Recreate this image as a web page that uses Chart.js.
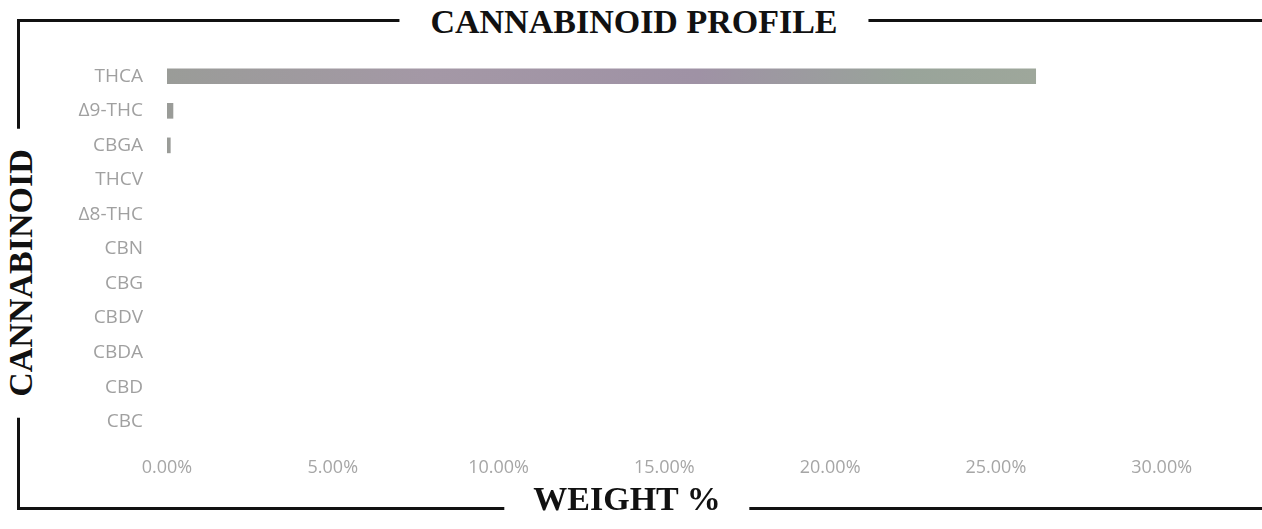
<!DOCTYPE html>
<html lang="en">
<head>
  <meta charset="UTF-8">
  <title>Cannabinoid Profile</title>
  <style>
    html, body {
      margin: 0;
      padding: 0;
      background: #fff;
    }
    .page {
      position: relative;
      width: 1262px;
      height: 529px;
      overflow: hidden;
    }
    .frame {
      position: absolute;
      left: 17px;
      top: 19px;
      width: 1260px;
      height: 485px;
      border: 3px solid #111;
      border-right: none;
    }
    .label {
      position: absolute;
      background: #fff;
      font-family: "Liberation Serif", "DejaVu Serif", serif;
      font-weight: bold;
      font-size: 34px;
      line-height: 1;
      color: #111;
      white-space: nowrap;
      padding: 0 31px;
      transform: translate(-50%, -50%);
    }
    .top-title { left: 634px; top: 22px; }
    .x-title { left: 627px; top: 499px; padding: 0 29px; }
    .y-title { left: 21px; top: 273px; padding: 0 21px; transform: translate(-50%, -50%) rotate(-90deg); }
    .chart-box {
      position: absolute;
      left: 50px;
      top: 45px;
      width: 1200px;
      height: 440px;
    }
  </style>
  <script src="https://cdn.jsdelivr.net/npm/chart.js"></script>
</head>
<body>
  <div class="page">
    <div class="frame"></div>
    <div class="chart-box"><canvas id="profileChart"></canvas></div>
    <div class="label top-title">CANNABINOID PROFILE</div>
    <div class="label x-title">WEIGHT %</div>
    <div class="label y-title">CANNABINOID</div>
  </div>

  <script>
    const cannabinoids = ['THCA', 'Δ9-THC', 'CBGA', 'THCV', 'Δ8-THC', 'CBN', 'CBG', 'CBDV', 'CBDA', 'CBD', 'CBC'];
    const weights = [26.2, 0.18, 0.1, 0, 0, 0, 0, 0, 0, 0, 0];
    const xTicks = [0, 5, 10, 15, 20, 25, 30];

    // washed-out grey / mauve / green look of the bar
    function barFill(context) {
      if (!context.raw) return 'rgba(0,0,0,0)';
      const chart = context.chart;
      const area = chart.chartArea;
      if (!area) return '#a19ca3';
      const g = chart.ctx.createLinearGradient(area.left, 0, area.right, 0);
      g.addColorStop(0, '#9a9c98');
      g.addColorStop(0.25, '#a498a6');
      g.addColorStop(0.5, '#9f92a5');
      g.addColorStop(0.7, '#99a49a');
      g.addColorStop(0.82, '#9ea79b');
      g.addColorStop(1, '#9ea79b');
      return g;
    }

    const ctx = document.getElementById('profileChart').getContext('2d');
    new Chart(ctx, {
      type: 'bar',
      data: {
        labels: cannabinoids,
        datasets: [{
          label: 'Weight %',
          data: weights,
          backgroundColor: barFill,
          borderWidth: 0,
          barThickness: 15
        }]
      },
      options: {
        indexAxis: 'y',
        responsive: true,
        maintainAspectRatio: false,
        animation: false,
        layout: {
          padding: { left: 17, right: 22, top: 14, bottom: 0 }
        },
        plugins: {
          legend: { display: false },
          tooltip: { enabled: false }
        },
        scales: {
          x: {
            min: 0,
            max: 32,
            grid: { display: false, drawTicks: false },
            border: { display: false },
            afterBuildTicks: (scale) => {
              scale.ticks = xTicks.map(v => ({ value: v }));
            },
            afterFit: (scale) => { scale.height = 46; },
            ticks: {
              padding: 18,
              color: '#a6a6a6',
              font: { family: 'Open Sans', size: 18 },
              callback: (v) => Number(v).toFixed(2) + '%'
            }
          },
          y: {
            grid: { display: false, drawTicks: false },
            border: { display: false },
            afterFit: (scale) => {
              scale.width = 100;
              scale.paddingTop = 0;
              scale.paddingBottom = 0;
            },
            ticks: {
              padding: 24,
              color: '#a0a0a0',
              font: { family: 'Open Sans', size: 19 }
            }
          }
        }
      }
    });
  </script>
</body>
</html>
